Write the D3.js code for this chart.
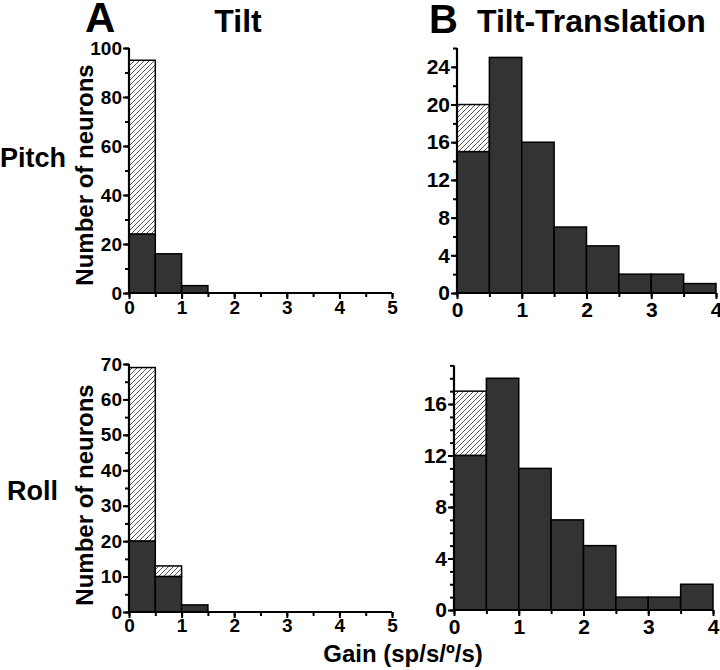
<!DOCTYPE html>
<html>
<head>
<meta charset="utf-8">
<script src="https://cdn.jsdelivr.net/npm/d3@7"></script>
<style>
  html, body { margin: 0; padding: 0; background: #fff; }
  svg text { font-family: "Liberation Sans", Arial, sans-serif; font-weight: bold; fill: #000; }
</style>
</head>
<body>
<svg id="chart" width="720" height="670"></svg>
<script>
// ---- Data ----
const binEdges = [0, 0.5, 1, 1.5, 2, 2.5, 3, 3.5, 4, 4.5, 5];
// Tilt (A)
const tiltPitchSolid = [24, 16, 3, 0, 0, 0, 0, 0, 0, 0];
const tiltPitchTotal = [95, 16, 3, 0, 0, 0, 0, 0, 0, 0];
const tiltRollSolid  = [20, 10, 2, 0, 0, 0, 0, 0, 0, 0];
const tiltRollTotal  = [69, 13, 2, 0, 0, 0, 0, 0, 0, 0];
// Tilt-Translation (B)
const ttPitchSolid = [15, 25, 16, 7, 5, 2, 2, 1];
const ttPitchTotal = [20, 25, 16, 7, 5, 2, 2, 1];
const ttRollSolid  = [12, 18, 11, 7, 5, 1, 1, 2];
const ttRollTotal  = [17, 18, 11, 7, 5, 1, 1, 2];

const tiltXTicks = [0, 1, 2, 3, 4, 5];
const ttXTicks = [0, 1, 2, 3, 4];
const tiltPitchYTicks = [0, 20, 40, 60, 80, 100];
const tiltRollYTicks = [0, 10, 20, 30, 40, 50, 60, 70];
const ttPitchYTicks = [0, 4, 8, 12, 16, 20, 24];
const ttRollYTicks = [0, 4, 8, 12, 16];

const svg = d3.select("#chart");
const defs = svg.append("defs");
const pat = defs.append("pattern")
  .attr("id", "hatch").attr("patternUnits", "userSpaceOnUse")
  .attr("width", 5).attr("height", 5);
pat.append("rect").attr("width", 5).attr("height", 5).attr("fill", "#fff");
pat.append("path").attr("d", "M-1,1 l2,-2 M0,5 l5,-5 M4,6 l2,-2")
  .attr("stroke", "#444").attr("stroke-width", 0.9);

function panel(cfg) {
  const x = d3.scaleLinear().domain(cfg.xDomain).range([cfg.x0, cfg.x1]);
  const y = d3.scaleLinear().domain(cfg.yDomain).range([cfg.y0, cfg.yTop]);
  const g = svg.append("g");
  const n = cfg.total.length;
  for (let i = 0; i < n; i++) {
    const a = binEdges[i], b = binEdges[i + 1];
    if (cfg.total[i] > cfg.solid[i]) {
      g.append("rect")
        .attr("x", x(a)).attr("width", x(b) - x(a))
        .attr("y", y(cfg.total[i])).attr("height", y(cfg.solid[i]) - y(cfg.total[i]))
        .attr("fill", "url(#hatch)").attr("stroke", "#000").attr("stroke-width", 1.5);
    }
    if (cfg.solid[i] > 0) {
      g.append("rect")
        .attr("x", x(a)).attr("width", x(b) - x(a))
        .attr("y", y(cfg.solid[i])).attr("height", y(0) - y(cfg.solid[i]))
        .attr("fill", "#333").attr("stroke", "#000").attr("stroke-width", 1.5);
    }
  }
  // minor ticks
  const xMinor = d3.range(cfg.xDomain[0], cfg.xDomain[1] + 0.001, 0.5);
  g.append("g").attr("transform", `translate(0,${cfg.y0})`)
    .call(d3.axisBottom(x).tickValues(xMinor).tickSize(4).tickFormat(""))
    .call(s => s.select(".domain").remove())
    .call(s => s.selectAll("line").attr("stroke-width", 2));
  const yMinor = d3.range(cfg.yDomain[0], cfg.yDomain[1] + 0.001, cfg.yMinorStep);
  g.append("g").attr("transform", `translate(${cfg.x0},0)`)
    .call(d3.axisLeft(y).tickValues(yMinor).tickSize(4).tickFormat(""))
    .call(s => s.select(".domain").remove())
    .call(s => s.selectAll("line").attr("stroke-width", 2));
  // major axes
  const xa = g.append("g").attr("transform", `translate(0,${cfg.y0})`)
    .call(d3.axisBottom(x).tickValues(cfg.xTicks).tickSize(6).tickSizeOuter(0).tickPadding(cfg.xPad).tickFormat(d3.format("d")));
  const ya = g.append("g").attr("transform", `translate(${cfg.x0},0)`)
    .call(d3.axisLeft(y).tickValues(cfg.yTicks).tickSize(6).tickSizeOuter(0).tickPadding(1).tickFormat(d3.format("d")));
  [xa, ya].forEach(a => {
    a.select(".domain").attr("stroke-width", 2.2);
    a.selectAll("line").attr("stroke-width", 2);
    a.selectAll("text").style("font-size", cfg.fs + "px").style("font-family", "'Liberation Sans', Arial, sans-serif").style("font-weight", "bold");
  });
  // y-axis domain should span to top of domain
  ya.select(".domain").attr("d", `M0,${cfg.y0}V${cfg.yTop}`);
  xa.select(".domain").attr("d", `M${cfg.x0},0H${cfg.x1}`);
}

panel({ solid: tiltPitchSolid, total: tiltPitchTotal, xDomain: [0, 5], yDomain: [0, 100],
  x0: 129, x1: 392, y0: 293, yTop: 48, xTicks: tiltXTicks, yTicks: tiltPitchYTicks, yMinorStep: 10, fs: 19, xPad: 2 });
panel({ solid: tiltRollSolid, total: tiltRollTotal, xDomain: [0, 5], yDomain: [0, 70],
  x0: 129, x1: 392, y0: 612, yTop: 364, xTicks: tiltXTicks, yTicks: tiltRollYTicks, yMinorStep: 5, fs: 19, xPad: 1 });
panel({ solid: ttPitchSolid, total: ttPitchTotal, xDomain: [0, 4], yDomain: [0, 26],
  x0: 457, x1: 716, y0: 293, yTop: 48, xTicks: ttXTicks, yTicks: ttPitchYTicks, yMinorStep: 2, fs: 21, xPad: 3 });
panel({ solid: ttRollSolid, total: ttRollTotal, xDomain: [0, 4], yDomain: [0, 19],
  x0: 454, x1: 713, y0: 610, yTop: 365.4, xTicks: ttXTicks, yTicks: ttRollYTicks, yMinorStep: 1, fs: 21, xPad: 3 });

// Titles and labels
svg.append("text").attr("x", 85).attr("y", 32).style("font-size", "42px").text("A");
svg.append("text").attr("x", 238).attr("y", 32).attr("text-anchor", "middle").style("font-size", "32px").text("Tilt");
svg.append("text").attr("x", 429).attr("y", 33).style("font-size", "40px").text("B");
svg.append("text").attr("x", 477).attr("y", 32).style("font-size", "32px").text("Tilt-Translation");
svg.append("text").attr("x", 0).attr("y", 167).style("font-size", "27px").text("Pitch");
svg.append("text").attr("x", 7).attr("y", 500).style("font-size", "27px").text("Roll");
svg.append("text").attr("transform", "translate(93,175) rotate(-90)").attr("text-anchor", "middle")
  .style("font-size", "24px").text("Number of neurons");
svg.append("text").attr("transform", "translate(93,495) rotate(-90)").attr("text-anchor", "middle")
  .style("font-size", "24px").text("Number of neurons");
svg.append("text").attr("x", 403).attr("y", 662).attr("text-anchor", "middle")
  .style("font-size", "24px").text("Gain (sp/s/º/s)");
</script>
</body>
</html>
